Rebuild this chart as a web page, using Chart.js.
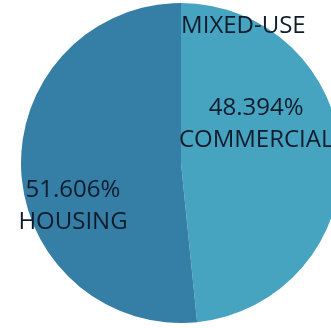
<!DOCTYPE html>
<html>
<head>
<meta charset="utf-8">
<script src="https://cdn.jsdelivr.net/npm/chart.js@4"></script>
<style>
  html, body { margin: 0; padding: 0; background: #fff; overflow: hidden; }
  #wrap { position: relative; width: 362px; height: 328px; }
</style>
</head>
<body>
<div id="wrap"><canvas id="PieChart"></canvas></div>
<script>
const categories = ['COMMERCIAL', 'HOUSING', 'MIXED-USE'];
const shares = [48.394, 51.606, 0]; // procent udziału
const sliceColors = ['#46a4c1', '#357ea5', '#3d91b4'];

// pozycje etykiet względem środka koła (ułamek promienia)
const labelSpots = [
  { dx: 0.47, dy: -0.245, pct: true },
  { dx: -0.675, dy: 0.27, pct: true },
  { dx: 0.39, dy: -0.855, pct: false }
];

const sliceLabels = {
  id: 'sliceLabels',
  afterDatasetsDraw(chart) {
    const ctx = chart.ctx;
    const arc = chart.getDatasetMeta(0).data[0];
    const cx = arc.x, cy = arc.y, r = arc.outerRadius;
    ctx.save();
    ctx.font = '24px "Open Sans", sans-serif';
    ctx.fillStyle = '#0f1c2c';
    ctx.textAlign = 'center';
    ctx.textBaseline = 'middle';
    categories.forEach((name, i) => {
      const s = labelSpots[i];
      const x = cx + s.dx * r, y = cy + s.dy * r;
      if (s.pct) {
        ctx.fillText(shares[i].toFixed(3) + '%', x, y - 16);
        ctx.fillText(name, x, y + 16);
      } else {
        ctx.fillText(name, x, y);
      }
    });
    ctx.restore();
  }
};

new Chart(document.getElementById('PieChart'), {
  type: 'pie',
  data: {
    labels: categories,
    datasets: [{
      data: shares,
      backgroundColor: sliceColors,
      borderWidth: 0
    }]
  },
  options: {
    responsive: true,
    maintainAspectRatio: false,
    animation: false,
    layout: { padding: { top: 3, bottom: 5, left: 0, right: 0 } },
    plugins: {
      legend: { display: false },
      tooltip: { enabled: false }
    }
  },
  plugins: [sliceLabels]
});
</script>
</body>
</html>
